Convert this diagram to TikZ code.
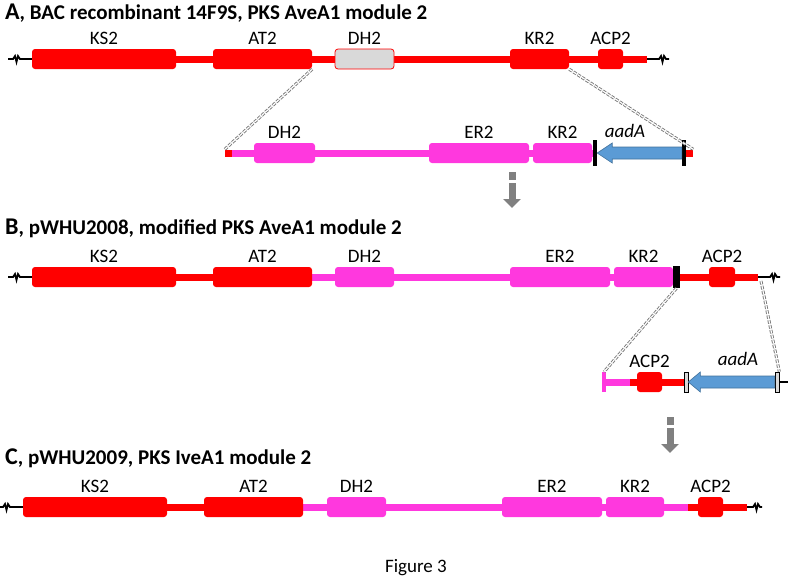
\documentclass[tikz,border=0pt]{standalone}
\usepackage{fontspec}
\setmainfont{Carlito}
\usetikzlibrary{arrows.meta,calc,backgrounds}

\definecolor{pksred}{RGB}{255,0,0}
\definecolor{pksmag}{RGB}{255,56,222}
\definecolor{dhgray}{RGB}{217,217,217}
\definecolor{aadblue}{RGB}{91,155,213}
\definecolor{aadedge}{RGB}{65,113,156}
\definecolor{seamgray}{RGB}{120,120,120}
\definecolor{arrgray}{RGB}{128,128,128}

\begin{document}
\begin{tikzpicture}[x=1pt,y=-1pt,
	dom/.style={rounded corners=3pt, minimum height=20pt, inner sep=0pt},
	rdom/.style={dom, fill=pksred},
	mdom/.style={dom, fill=pksmag},
	lbl/.style={font=\fontsize{19}{22}\selectfont, inner sep=2pt},
	lab/.style={label={[lbl, label distance=2pt]above:#1}},
	ttl/.style={font=\bfseries\fontsize{21}{24}\selectfont, inner sep=0pt, anchor=base west},
	sq/.style={fill=pksred, minimum size=7pt, inner sep=0pt},
	bar/.style={fill=black, minimum width=4pt, minimum height=26pt, inner sep=0pt},
	gbar/.style={fill=dhgray, draw=black, line width=0.6pt, minimum width=4pt, minimum height=20pt, inner sep=0pt},
	rline/.style={pksred, line width=7pt},
	mline/.style={pksmag, line width=7pt},
	endl/.style={black, line width=1.8pt},
	aad/.style={fill=aadblue, draw=aadedge, line width=0.6pt},
	seam/.style={draw=seamgray, line width=0.9pt, double=white, double distance=1.2pt, dash pattern=on 3.5pt off 1.5pt},
	downarr/.style={arrgray, line width=7pt, dash pattern=on 8pt off 3pt on 60pt, -{Triangle[length=9pt,width=17pt]}}
	]
	\useasboundingbox (0,0) rectangle (788,579);

	% A: BAC recombinant
	\node[ttl] (tA) at (5,19) {{\fontsize{24}{26}\selectfont A}, BAC recombinant 14F9S, PKS AveA1 module 2};
	\coordinate (lA) at (8,59);
	\node[rdom, minimum width=144pt, lab=KS2] (ksA) at (104,59) {};
	\node[rdom, minimum width=99pt, lab=AT2] (atA) at (262.5,59) {};
	\node[dom, fill=dhgray, draw=pksred, line width=0.8pt, minimum width=59pt, lab=DH2] (dhA) at (364.5,59) {};
	\node[rdom, minimum width=59pt, lab=KR2] (krA) at (539.5,59) {};
	\node[rdom, minimum width=25pt, lab=ACP2] (acpA) at (610.5,59) {};
	\coordinate (eA) at (647,59);
	\coordinate (rA) at (669,59);

	% A: replacement fragment
	\node[sq] (sqAl) at (228.5,153) {};
	\node[mdom, minimum width=61pt, lab=DH2] (dhAi) at (284.5,153) {};
	\node[mdom, minimum width=100pt, lab=ER2] (erAi) at (479,153) {};
	\node[mdom, minimum width=59pt, lab=KR2] (krAi) at (562.5,153) {};
	\node[bar] (bAl) at (595,153) {};
	\node[bar] (bAr) at (684,153) {};
	\node[sq] (sqAr) at (689.5,153) {};
	\node[lbl, anchor=base] (aadAt) at (625,137) {\itshape aadA};

	% B: pWHU2008
	\node[ttl] (tB) at (5,234) {{\fontsize{24}{26}\selectfont B}, pWHU2008, modified PKS AveA1 module 2};
	\coordinate (lB) at (8,277);
	\node[rdom, minimum width=144pt, lab=KS2] (ksB) at (104,277) {};
	\node[rdom, minimum width=99pt, lab=AT2] (atB) at (262.5,277) {};
	\node[mdom, minimum width=59pt, lab=DH2] (dhB) at (364.5,277) {};
	\node[mdom, minimum width=100pt, lab=ER2] (erB) at (560,277) {};
	\node[mdom, minimum width=59pt, lab=KR2] (krB) at (643.5,277) {};
	\node[bar, minimum width=7pt, minimum height=22pt] (barB) at (676.5,277) {};
	\node[rdom, minimum width=26pt, lab=ACP2] (acpB) at (722,277) {};
	\coordinate (eB) at (758,277);
	\coordinate (rB) at (780,277);

	% B: replacement fragment
	\node[fill=pksmag, minimum width=4pt, minimum height=20pt, inner sep=0pt] (ptB) at (604,382) {};
	\coordinate (jBi) at (630,382);
	\node[rdom, minimum width=25pt, lab=ACP2] (acpBi) at (649.5,382) {};
	\node[gbar] (gbl) at (686,382) {};
	\node[gbar] (gbr) at (777,382) {};
	\coordinate (rBi) at (788,382);
	\node[lbl, anchor=base] (aadBt) at (738,365) {\itshape aadA};

	% C: pWHU2009
	\node[ttl] (tC) at (5,464) {{\fontsize{24}{26}\selectfont C}, pWHU2009, PKS IveA1 module 2};
	\coordinate (lC) at (0,507);
	\node[rdom, minimum width=144pt, lab=KS2] (ksC) at (95,507) {};
	\node[rdom, minimum width=99pt, lab=AT2] (atC) at (253.5,507) {};
	\node[mdom, minimum width=59pt, lab=DH2] (dhC) at (356.5,507) {};
	\node[mdom, minimum width=100pt, lab=ER2] (erC) at (552,507) {};
	\node[mdom, minimum width=58pt, lab=KR2] (krC) at (635,507) {};
	\coordinate (jC) at (688,507);
	\node[rdom, minimum width=25pt, lab=ACP2] (acpC) at (710.5,507) {};
	\coordinate (eC) at (747,507);
	\coordinate (rC) at (762,507);

	\node[lbl, anchor=base] (fig) at (416,572) {Figure 3};

	\begin{scope}[on background layer]
		\draw[rline] (ksA.center) -- (eA);
		\draw[mline] (sqAl.center) -- (bAl.center);
		\draw[rline] (ksB.center) -- (atB.center);
		\draw[mline] (atB.center) -- (barB.center);
		\draw[rline] (barB.center) -- (eB);
		\draw[mline] (ptB.center) -- (jBi);
		\draw[rline] (jBi) -- (gbl.center);
		\draw[rline] (ksC.center) -- (atC.center);
		\draw[mline] (atC.center) -- (jC);
		\draw[rline] (jC) -- (eC);
	\end{scope}

	% chromosome ends
	\draw[endl] (lA) -- ++(5,0) -- ++(2,-3) -- ++(1.5,6) -- ++(1.5,-6) -- ++(2,3) -- (ksA.west);
	\draw[endl] (lB) -- ++(5,0) -- ++(2,-3) -- ++(1.5,6) -- ++(1.5,-6) -- ++(2,3) -- (ksB.west);
	\draw[endl] (lC) -- ++(3,0) -- ++(2,-3) -- ++(1.5,6) -- ++(1.5,-6) -- ++(2,3) -- (ksC.west);
	\draw[endl] (eA) -- ++(12,0) -- ++(2,-3) -- ++(1.5,6) -- ++(1.5,-6) -- ++(2,3) -- (rA);
	\draw[endl] (eB) -- ++(12,0) -- ++(2,-3) -- ++(1.5,6) -- ++(1.5,-6) -- ++(2,3) -- (rB);
	\draw[endl] (eC) -- ++(6,0) -- ++(2,-3) -- ++(1.5,6) -- ++(1.5,-6) -- ++(2,3) -- (rC);
	\draw[endl] (gbr.east) -- (rBi);

	% aadA
	\draw[aad] (bAl.east) -- ++(15,-10) -- ++(0,4) -- ($(bAr.west)+(0,-6)$) -- ($(bAr.west)+(0,6)$) -- ($(bAl.east)+(15,6)$) -- ++(0,4) -- cycle;
	\draw[aad] (gbl.east) -- ++(12,-10) -- ++(0,4) -- ($(gbr.west)+(0,-6)$) -- ($(gbr.west)+(0,6)$) -- ($(gbl.east)+(12,6)$) -- ++(0,4) -- cycle;

	% crossover
	\draw[seam] (atA.south east) -- (sqAl.north west);
	\draw[seam] (krA.south east) -- (sqAr.north east);
	\draw[seam] (barB.south) -- (ptB.north);
	\draw[seam] ([xshift=3pt,yshift=-4pt]eB) -- (gbr.north east);

	\coordinate (d1s) at (512,172);
	\coordinate (d1e) at (512,208);
	\coordinate (d2s) at (670,417);
	\coordinate (d2e) at (670,453);
	\draw[downarr] (d1s) -- (d1e);
	\draw[downarr] (d2s) -- (d2e);

\end{tikzpicture}
\end{document}
